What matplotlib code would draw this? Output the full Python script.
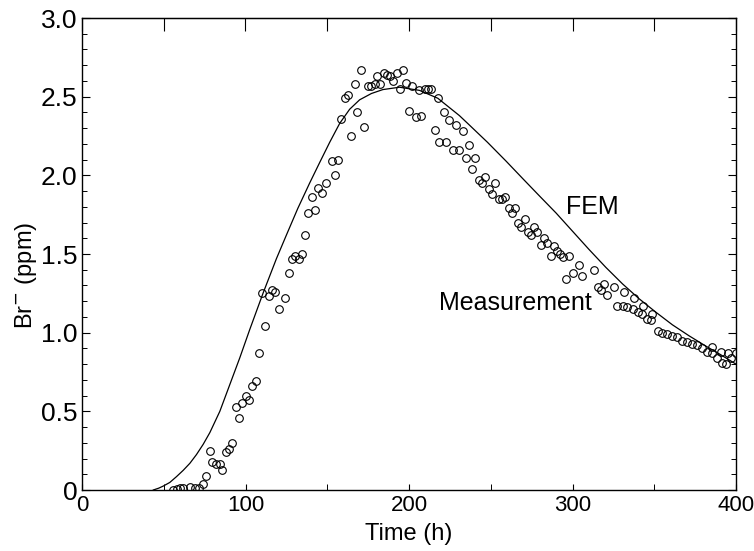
import matplotlib
matplotlib.use('Agg')
import matplotlib.pyplot as plt
from matplotlib.ticker import MultipleLocator

plt.rcParams['font.family'] = ['Liberation Sans', 'DejaVu Sans']

# measured Br- concentration (open circles)
meas_t = [55.8, 57.8, 59.8, 61.9, 66.0, 69.0, 71.6, 74.1, 76.1, 78.2,
          79.8, 82.2, 84.3, 85.9, 87.9, 90.0, 91.8, 94.0, 95.9, 98.1,
          100.2, 102.0, 104.2, 106.3, 108.1, 110.3, 112.0, 114.4, 116.0, 118.0,
          120.3, 124.2, 126.4, 128.4, 130.5, 132.5, 134.4, 136.4, 138.4, 140.6,
          142.5, 144.5, 146.6, 149.4, 152.7, 154.7, 156.3, 158.7, 160.8, 162.9,
          164.5, 166.9, 168.4, 170.8, 172.2, 174.7, 176.7, 179.1, 180.4, 182.4,
          184.6, 186.7, 188.5, 190.4, 192.4, 194.4, 196.2, 198.3, 200.1, 201.9,
          204.0, 206.0, 207.6, 209.5, 211.5, 213.5, 215.6, 217.6, 218.6, 221.3,
          222.7, 224.3, 226.8, 229.0, 230.8, 232.9, 234.9, 237.0, 238.6, 240.6,
          242.6, 244.7, 246.7, 248.7, 250.8, 252.8, 254.9, 256.9, 258.9, 260.9,
          262.9, 264.6, 266.7, 268.7, 270.7, 272.8, 274.4, 276.4, 278.5, 280.5,
          282.6, 284.6, 286.6, 288.4, 290.3, 292.3, 293.9, 296.0, 297.8, 300.0,
          304.1, 305.8, 313.3, 315.3, 317.4, 319.4, 321.4, 325.5, 327.5, 330.6,
          331.6, 333.6, 336.7, 337.7, 339.8, 342.8, 343.2, 345.8, 347.9, 348.9,
          352.0, 355.0, 358.0, 361.1, 364.2, 367.2, 370.3, 373.3, 376.4, 379.4,
          382.5, 385.1, 385.5, 388.6, 390.6, 391.6, 393.7, 395.3, 396.7, 400.0]
meas_c = [0.00, 0.005, 0.01, 0.01, 0.02, 0.015, 0.015, 0.04, 0.09, 0.25,
          0.18, 0.165, 0.165, 0.13, 0.24, 0.26, 0.30, 0.53, 0.46, 0.55,
          0.60, 0.57, 0.66, 0.69, 0.87, 1.25, 1.04, 1.23, 1.27, 1.26,
          1.15, 1.22, 1.38, 1.47, 1.49, 1.47, 1.50, 1.62, 1.76, 1.86,
          1.78, 1.92, 1.89, 1.95, 2.09, 2.00, 2.10, 2.36, 2.49, 2.51,
          2.25, 2.58, 2.40, 2.67, 2.31, 2.57, 2.57, 2.58, 2.63, 2.58,
          2.65, 2.64, 2.63, 2.60, 2.65, 2.55, 2.67, 2.59, 2.41, 2.57,
          2.37, 2.54, 2.38, 2.55, 2.55, 2.55, 2.29, 2.49, 2.21, 2.40,
          2.21, 2.35, 2.16, 2.32, 2.16, 2.28, 2.11, 2.19, 2.04, 2.11,
          1.97, 1.95, 1.99, 1.91, 1.88, 1.95, 1.85, 1.85, 1.86, 1.79,
          1.76, 1.79, 1.70, 1.67, 1.72, 1.64, 1.62, 1.67, 1.64, 1.56,
          1.60, 1.57, 1.49, 1.55, 1.52, 1.50, 1.48, 1.34, 1.49, 1.38,
          1.43, 1.36, 1.40, 1.29, 1.27, 1.31, 1.24, 1.29, 1.17, 1.17,
          1.26, 1.16, 1.15, 1.22, 1.13, 1.12, 1.17, 1.09, 1.08, 1.12,
          1.01, 1.00, 0.99, 0.98, 0.97, 0.95, 0.94, 0.93, 0.92, 0.90,
          0.88, 0.91, 0.87, 0.84, 0.88, 0.81, 0.80, 0.87, 0.84, 0.87]

# FEM simulation curve
fem_t = [43.6, 47.0, 49.7, 53.7, 57.8, 61.9, 66.0, 70.0, 74.1, 78.2,
         84.3, 90.4, 96.5, 102.6, 110.7, 118.9, 125.0, 132.0, 139.2, 145.3,
         151.5, 157.6, 163.7, 169.8, 177.0, 184.0, 194.2, 206.4, 217.6, 230.8,
         236.9, 248.0, 259.4, 269.5, 279.7, 290.0, 300.0, 310.0, 320.4, 330.6,
         340.8, 351.0, 361.1, 371.3, 381.5, 390.6, 400.0]
fem_c = [0.00, 0.012, 0.025, 0.048, 0.085, 0.125, 0.17, 0.225, 0.29, 0.365,
         0.50, 0.67, 0.84, 1.02, 1.25, 1.47, 1.62, 1.79, 1.95, 2.08,
         2.21, 2.33, 2.42, 2.48, 2.52, 2.545, 2.56, 2.54, 2.49, 2.38,
         2.32, 2.21, 2.09, 1.98, 1.87, 1.76, 1.645, 1.53, 1.415, 1.31,
         1.215, 1.13, 1.05, 0.98, 0.915, 0.86, 0.80]

fig = plt.figure(figsize=(7.54, 5.51), dpi=100)
ax = fig.add_axes([82/754, 61/551, 654/754, 472/551])

ax.plot(fem_t, fem_c, '-', color='black', lw=0.9)
ax.plot(meas_t, meas_c, 'o', mfc='none', mec='black', ms=5.5, mew=0.8)

ax.text(312, 1.80, 'FEM', fontsize=18, ha='center', va='center')
ax.text(265, 1.19, 'Measurement', fontsize=18, ha='center', va='center')

ax.set_xlim(0, 400)
ax.set_ylim(0, 3.0)
ax.xaxis.set_major_locator(MultipleLocator(100))
ax.xaxis.set_minor_locator(MultipleLocator(50))
ax.yaxis.set_major_locator(MultipleLocator(0.5))
ax.yaxis.set_minor_locator(MultipleLocator(0.1))
ax.set_yticks([0, 0.5, 1.0, 1.5, 2.0, 2.5, 3.0])
ax.set_yticklabels(['0', '0.5', '1.0', '1.5', '2.0', '2.5', '3.0'])

ax.tick_params(which='both', direction='in', right=True, top=False)
ax.tick_params(axis='y', labelsize=19)
ax.tick_params(axis='x', labelsize=16)
ax.tick_params(which='major', length=6, width=0.8)
ax.tick_params(which='minor', length=3.5, width=0.7)
ax.tick_params(axis='x', which='both', length=4)

# top axis: plain ticks every 50 h
top = ax.secondary_xaxis('top')
top.set_xticks(range(0, 401, 50))
top.tick_params(direction='in', length=9, width=0.8, labeltop=False)

for s in ax.spines.values():
    s.set_linewidth(1.0)

ax.set_xlabel('Time (h)', fontsize=17, labelpad=5)
ax.set_ylabel(r'Br$^{-}$ (ppm)', fontsize=17)
ax.yaxis.set_label_coords(-0.066, 0.455)

fig.savefig('out.png', dpi=100)
